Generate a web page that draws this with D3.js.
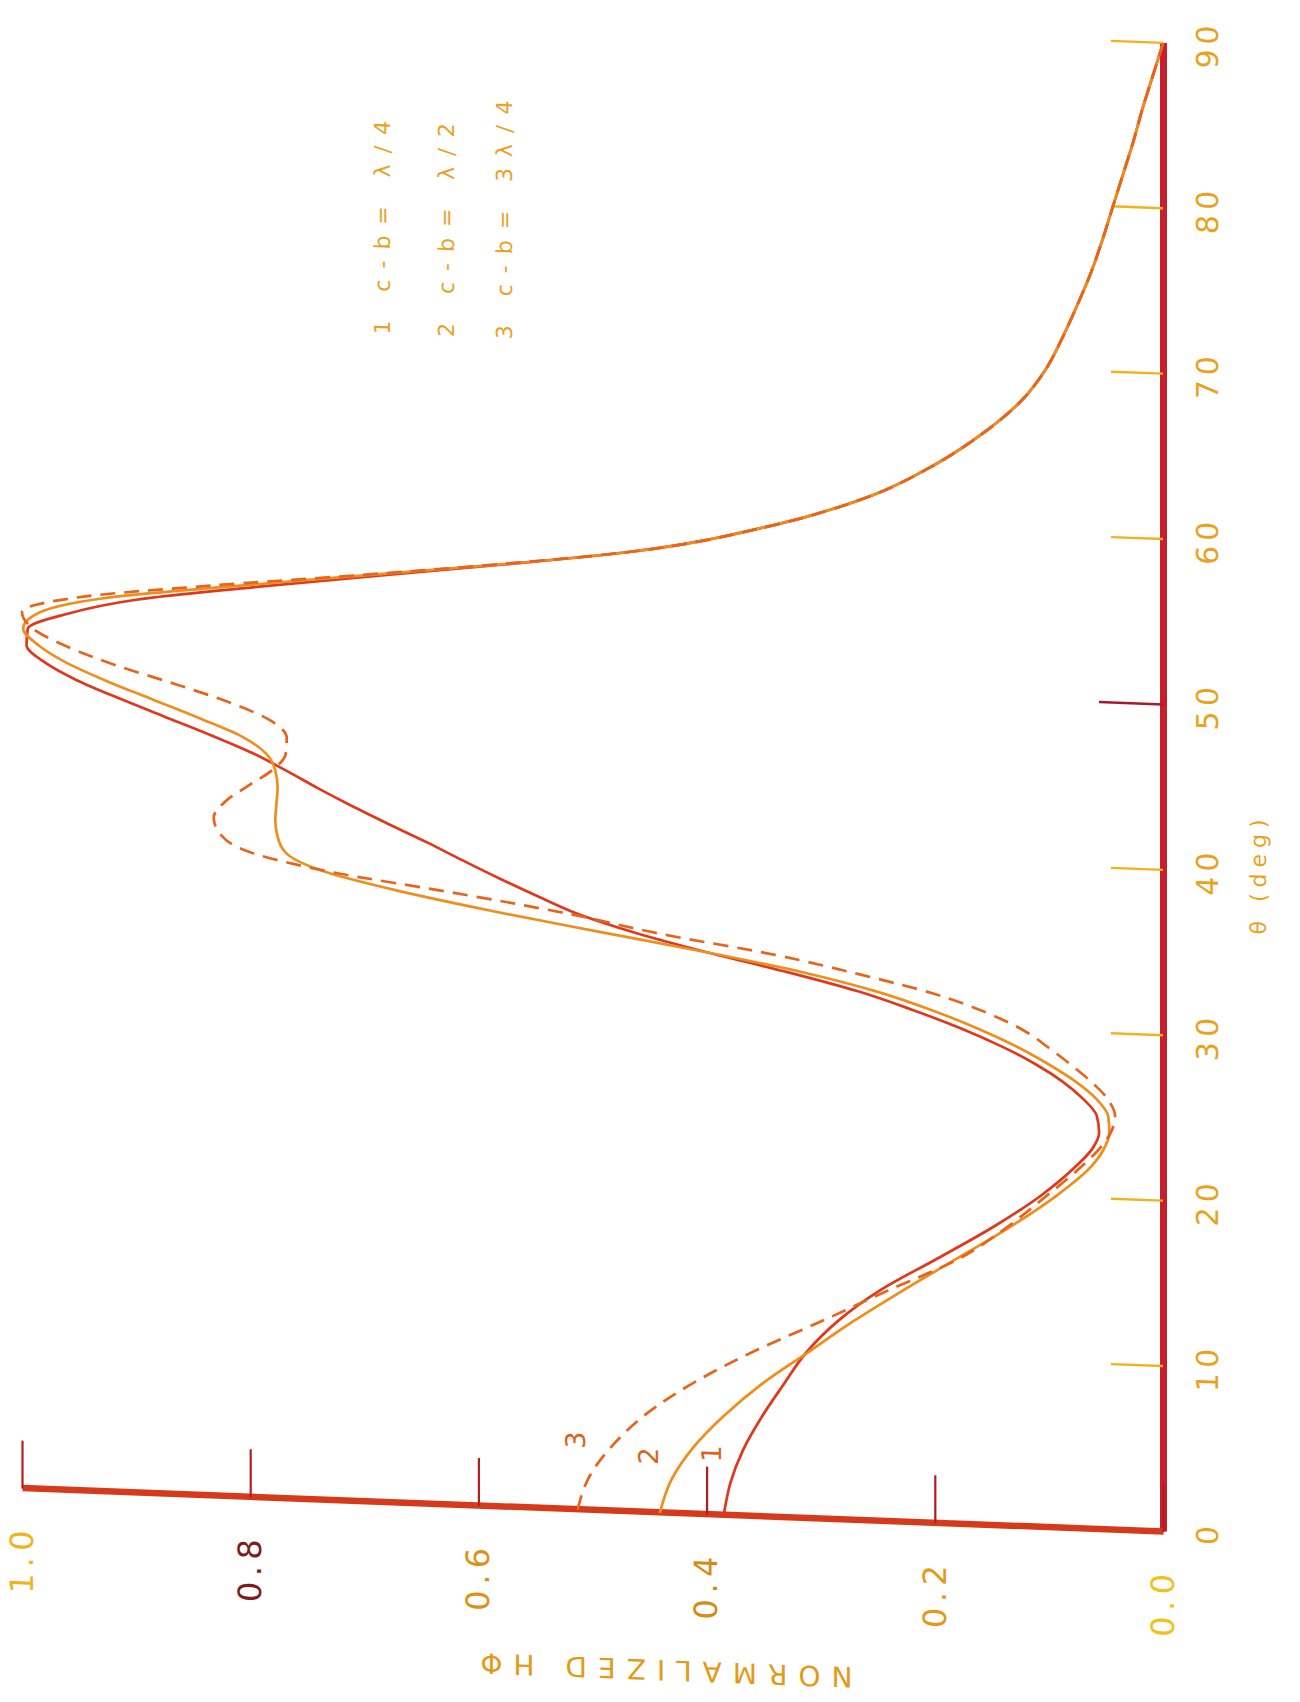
<!DOCTYPE html>
<html>
<head>
<meta charset="utf-8">
<script src="https://cdn.jsdelivr.net/npm/d3@7"></script>
<style>
  html, body { margin: 0; padding: 0; background: #ffffff; }
  svg { display: block; }
</style>
</head>
<body>
<svg id="chart" width="1300" height="1702"></svg>
<script>
// Scan angle theta (deg) shared by the three patterns
const thetaDeg = [0,2,4,6,8,10,12,14,16,18,20,22,
  23,24,25,26,27,28,29,30,31,32,33,34,35,36,37,38,39,40,41,42,43,44,45,46,47,48,49,50,51,52,53,54,55,56,57,58,
  60,62,64,66,68,70,72,74,76,78,80,82,84,86,88,90];

// Normalized H-phi, curve 1: c-b = lambda/4
const curve1 = [0.385,0.379,0.368,0.352,0.333,0.313,0.285,0.247,0.198,0.150,0.108,0.075,
  0.062,0.056,0.058,0.070,0.088,0.112,0.142,0.178,0.220,0.268,0.330,0.400,0.462,0.512,0.548,0.582,0.614,0.645,0.678,0.710,0.740,0.768,0.798,0.835,0.875,0.915,0.952,0.980,0.996,0.995,0.960,0.900,0.800,0.690,0.575,0.470,
  0.340,0.255,0.200,0.158,0.125,0.103,0.088,0.075,0.063,0.053,0.044,0.035,0.026,0.018,0.009,0];

// curve 2: c-b = lambda/2
const curve2 = [0.441,0.431,0.412,0.385,0.352,0.312,0.272,0.228,0.182,0.136,0.095,0.062,
  0.052,0.047,0.048,0.058,0.076,0.100,0.128,0.162,0.202,0.250,0.315,0.400,0.495,0.588,0.670,0.735,0.768,0.776,0.778,0.777,0.776,0.778,0.786,0.808,0.845,0.885,0.925,0.960,0.985,0.999,0.985,0.930,0.820,0.700,0.578,0.470,
  0.340,0.255,0.200,0.158,0.125,0.103,0.088,0.075,0.063,0.053,0.044,0.035,0.026,0.018,0.009,0];

// curve 3: c-b = 3 lambda/4 (dashed)
const curve3 = [0.513,0.503,0.482,0.452,0.410,0.358,0.298,0.240,0.180,0.138,0.103,0.070,
  0.056,0.046,0.042,0.048,0.062,0.080,0.100,0.122,0.155,0.200,0.265,0.340,0.440,0.520,0.620,0.730,0.800,0.826,0.832,0.822,0.802,0.781,0.769,0.768,0.782,0.818,0.866,0.918,0.960,0.990,1.000,0.952,0.838,0.705,0.580,0.470,
  0.340,0.255,0.200,0.158,0.125,0.103,0.088,0.075,0.063,0.053,0.044,0.035,0.026,0.018,0.009,0];

const thetaTicks = [0,10,20,30,40,50,60,70,80,90];
const phiTicks = [0,0.2,0.4,0.6,0.8,1.0];
const phiTickLabels = ["0.0","0.2","0.4","0.6","0.8","1.0"];
const phiLabelColors = ["#f2c11c","#e39a18","#d98a14","#de9214","#7c1c1c","#efb41c"];
const legendLines = ["1 c-b= \u03bb/4", "2 c-b= \u03bb/2", "3 c-b= 3\u03bb/4"];
const curveTags = ["1","2","3"];

const W = 1488.6, H = 1141;
const x = d3.scaleLinear().domain([0, 90]).range([0, W]);
const y = d3.scaleLinear().domain([0, 1]).range([H, 0]);

const svg = d3.select("#chart");
svg.append("rect").attr("width", 1300).attr("height", 1702).attr("fill", "#ffffff");

// The plot is laid on its side: theta runs up the page, the field value runs leftward,
// with a slight shear along the value axis.
const g = svg.append("g").attr("transform", "matrix(0,-1,1,0.038,22,1488.6)");

const font = "'DejaVu Sans', 'Liberation Sans', sans-serif";

// theta axis
const gx = g.append("g")
  .attr("transform", `translate(0,${H})`)
  .call(d3.axisBottom(x).tickValues(thetaTicks).tickSize(-52).tickSizeOuter(0)
    .tickPadding(34).tickFormat(d3.format("d")));
gx.select(".domain").attr("stroke", "#c41f2a").attr("stroke-width", 7);
gx.selectAll(".tick line")
  .attr("stroke", d => d === 50 ? "#a8192a" : "#f2b21e")
  .attr("stroke-width", 2.4)
  .attr("y2", d => d === 50 ? -64 : -52);
gx.selectAll(".tick text")
  .attr("fill", "#eaa21c")
  .style("font-family", font)
  .style("font-size", "30px")
  .style("letter-spacing", "5px");

// value axis
const gy = g.append("g")
  .call(d3.axisLeft(y).tickValues(phiTicks).tickSize(-48).tickSizeOuter(0)
    .tickPadding(36).tickFormat((d, i) => phiTickLabels[i]));
gy.select(".domain").attr("stroke", "#d63a1c").attr("stroke-width", 6.5);
gy.selectAll(".tick line").attr("stroke", "#b51d1d").attr("stroke-width", 2.2);
gy.selectAll(".tick text")
  .attr("fill", (d, i) => phiLabelColors[i])
  .style("font-family", font)
  .style("font-size", "32px")
  .style("letter-spacing", "6px");

// axis titles
gx.append("text")
  .attr("x", x(40.0)).attr("y", 95).attr("dy", "0.35em")
  .attr("text-anchor", "middle")
  .attr("fill", "#eaa21c")
  .style("font-family", font).style("font-size", "22px").style("letter-spacing", "6px")
  .text("\u03b8 (deg)");

g.append("text")
  .attr("transform", `translate(-157,${y(0.44)}) rotate(-90)`)
  .attr("dy", "0.35em")
  .attr("text-anchor", "middle")
  .attr("fill", "#e39a18")
  .style("font-family", font).style("font-size", "28px").style("letter-spacing", "11px")
  .text("NORMALIZED H\u03a6");

// pattern curves
const series = [
  { vals: curve1, color: "#e0381c", dash: null },
  { vals: curve2, color: "#ee8e1c", dash: null },
  { vals: curve3, color: "#e8641a", dash: "15,9" }
];
const line = d3.line()
  .x((d, i) => x(thetaDeg[i]))
  .y(d => y(d))
  .curve(d3.curveMonotoneX);

series.forEach(s => {
  g.append("path")
    .datum(s.vals)
    .attr("fill", "none")
    .attr("stroke", s.color)
    .attr("stroke-width", 2.7)
    .attr("stroke-linejoin", "round")
    .attr("stroke-dasharray", s.dash)
    .attr("d", line);
});

// curve numbers beside the starting points
const tagPos = [[3.7, 0.396], [3.4, 0.451], [4.2, 0.515]];
curveTags.forEach((t, i) => {
  g.append("text")
    .attr("x", x(tagPos[i][0])).attr("y", y(tagPos[i][1])).attr("dy", "0.35em")
    .attr("text-anchor", "middle")
    .attr("fill", "#dc641a")
    .style("font-family", font).style("font-size", "27px")
    .text(t);
});

// legend
const legendRows = [0.684, 0.628, 0.577];
legendLines.forEach((t, i) => {
  g.append("text")
    .attr("x", x(70.6)).attr("y", y(legendRows[i])).attr("dy", "0.35em")
    .attr("fill", "#eba126")
    .style("font-family", font).style("font-size", "22px").style("letter-spacing", "11px")
    .text(t);
});
</script>
</body>
</html>
